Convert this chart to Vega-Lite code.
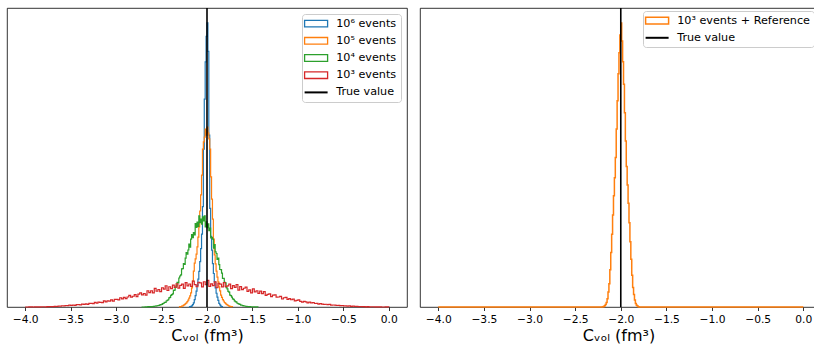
{
  "$schema": "https://vega.github.io/schema/vega-lite/v6.json",
  "padding": {"left": 6, "top": 6, "right": 0, "bottom": 0},
  "spacing": 11,
  "config": {
    "font": "DejaVu Sans",
    "view": {"stroke": "#000", "strokeWidth": 0.8},
    "axisX": {"grid": false, "domain": false, "tickSize": 3.5, "tickColor": "#000", "tickWidth": 0.8, "labelFontSize": 10.7, "labelColor": "#000", "labelPadding": 3.5, "titleFontSize": 16, "titleFontWeight": "normal", "titleColor": "#000", "titlePadding": 4},
    "legend": {"title": null, "padding": 4, "fillColor": "white", "strokeColor": "#cccccc", "cornerRadius": 3, "labelFontSize": 11.2, "labelColor": "#000", "labelOffset": 19, "symbolSize": 144, "symbolStrokeWidth": 1.4, "rowPadding": 4.2, "symbolType": "M-1.167,-0.55H2.667V0.55H-1.167Z"}
  },
  "datasets": {
    "blue": [{"x":-2.2,"y":0},{"x":-2.19,"y":0.01},{"x":-2.18,"y":0.02},{"x":-2.17,"y":0.04},{"x":-2.16,"y":0.08},{"x":-2.15,"y":0.14},{"x":-2.14,"y":0.25},{"x":-2.13,"y":0.38},{"x":-2.12,"y":0.53},{"x":-2.11,"y":0.72},{"x":-2.1,"y":0.93},{"x":-2.09,"y":1.19},{"x":-2.08,"y":1.52},{"x":-2.07,"y":1.95},{"x":-2.06,"y":2.44},{"x":-2.05,"y":3.36},{"x":-2.04,"y":5.28},{"x":-2.03,"y":6.95},{"x":-2.02,"y":8.2},{"x":-2.01,"y":9.05},{"x":-2.0,"y":9.5},{"x":-1.99,"y":8.55},{"x":-1.98,"y":5.75},{"x":-1.97,"y":3.3},{"x":-1.96,"y":2.36},{"x":-1.95,"y":1.9},{"x":-1.94,"y":1.45},{"x":-1.93,"y":1.12},{"x":-1.92,"y":0.85},{"x":-1.91,"y":0.64},{"x":-1.9,"y":0.46},{"x":-1.89,"y":0.33},{"x":-1.88,"y":0.22},{"x":-1.87,"y":0.12},{"x":-1.86,"y":0.07},{"x":-1.85,"y":0.03},{"x":-1.84,"y":0.01},{"x":-1.83,"y":0}],
    "orange": [{"x":-2.31,"y":0},{"x":-2.3,"y":0.01},{"x":-2.29,"y":0.01},{"x":-2.28,"y":0.03},{"x":-2.27,"y":0.04},{"x":-2.26,"y":0.06},{"x":-2.25,"y":0.08},{"x":-2.24,"y":0.11},{"x":-2.23,"y":0.14},{"x":-2.22,"y":0.18},{"x":-2.21,"y":0.23},{"x":-2.2,"y":0.3},{"x":-2.19,"y":0.37},{"x":-2.18,"y":0.47},{"x":-2.17,"y":0.64},{"x":-2.16,"y":0.87},{"x":-2.15,"y":1.2},{"x":-2.14,"y":1.47},{"x":-2.13,"y":1.61},{"x":-2.12,"y":1.77},{"x":-2.11,"y":2.01},{"x":-2.1,"y":2.34},{"x":-2.09,"y":2.68},{"x":-2.08,"y":3.21},{"x":-2.07,"y":3.75},{"x":-2.06,"y":4.41},{"x":-2.05,"y":5.28},{"x":-2.04,"y":5.52},{"x":-2.03,"y":5.68},{"x":-2.02,"y":5.95},{"x":-2.01,"y":5.75},{"x":-2.0,"y":6.02},{"x":-1.99,"y":5.82},{"x":-1.98,"y":5.62},{"x":-1.97,"y":5.28},{"x":-1.96,"y":4.35},{"x":-1.95,"y":3.61},{"x":-1.94,"y":2.94},{"x":-1.93,"y":2.27},{"x":-1.92,"y":1.74},{"x":-1.91,"y":1.44},{"x":-1.9,"y":1.2},{"x":-1.89,"y":1.0},{"x":-1.88,"y":0.84},{"x":-1.87,"y":0.67},{"x":-1.86,"y":0.54},{"x":-1.85,"y":0.4},{"x":-1.84,"y":0.32},{"x":-1.83,"y":0.25},{"x":-1.82,"y":0.2},{"x":-1.81,"y":0.15},{"x":-1.8,"y":0.12},{"x":-1.79,"y":0.09},{"x":-1.78,"y":0.07},{"x":-1.77,"y":0.05},{"x":-1.76,"y":0.03},{"x":-1.75,"y":0.02},{"x":-1.74,"y":0.01},{"x":-1.73,"y":0.01},{"x":-1.72,"y":0}],
    "green": [{"x":-2.72,"y":0},{"x":-2.68,"y":0.006},{"x":-2.65,"y":0.01},{"x":-2.62,"y":0.012},{"x":-2.61,"y":0.014},{"x":-2.6,"y":0.016},{"x":-2.59,"y":0.019},{"x":-2.58,"y":0.025},{"x":-2.57,"y":0.029},{"x":-2.56,"y":0.037},{"x":-2.55,"y":0.041},{"x":-2.54,"y":0.05},{"x":-2.53,"y":0.055},{"x":-2.52,"y":0.072},{"x":-2.51,"y":0.082},{"x":-2.5,"y":0.091},{"x":-2.49,"y":0.116},{"x":-2.48,"y":0.125},{"x":-2.47,"y":0.153},{"x":-2.46,"y":0.158},{"x":-2.45,"y":0.201},{"x":-2.44,"y":0.224},{"x":-2.43,"y":0.243},{"x":-2.42,"y":0.308},{"x":-2.41,"y":0.32},{"x":-2.4,"y":0.387},{"x":-2.39,"y":0.415},{"x":-2.38,"y":0.442},{"x":-2.37,"y":0.559},{"x":-2.36,"y":0.562},{"x":-2.35,"y":0.659},{"x":-2.34,"y":0.704},{"x":-2.33,"y":0.825},{"x":-2.32,"y":0.809},{"x":-2.31,"y":0.97},{"x":-2.3,"y":1.037},{"x":-2.29,"y":1.073},{"x":-2.28,"y":1.278},{"x":-2.27,"y":1.282},{"x":-2.26,"y":1.449},{"x":-2.25,"y":1.427},{"x":-2.24,"y":1.633},{"x":-2.23,"y":1.818},{"x":-2.22,"y":1.769},{"x":-2.21,"y":1.907},{"x":-2.2,"y":2.105},{"x":-2.19,"y":2.001},{"x":-2.18,"y":2.267},{"x":-2.17,"y":2.423},{"x":-2.16,"y":2.316},{"x":-2.15,"y":2.49},{"x":-2.14,"y":2.408},{"x":-2.13,"y":2.788},{"x":-2.12,"y":2.662},{"x":-2.11,"y":2.837},{"x":-2.1,"y":2.692},{"x":-2.09,"y":3.05},{"x":-2.08,"y":2.82},{"x":-2.07,"y":2.941},{"x":-2.06,"y":2.767},{"x":-2.05,"y":3.012},{"x":-2.04,"y":2.88},{"x":-2.03,"y":3.051},{"x":-2.02,"y":2.681},{"x":-2.01,"y":2.849},{"x":-2.0,"y":2.654},{"x":-1.99,"y":2.782},{"x":-1.98,"y":2.554},{"x":-1.97,"y":2.64},{"x":-1.96,"y":2.309},{"x":-1.95,"y":2.326},{"x":-1.94,"y":2.272},{"x":-1.93,"y":1.968},{"x":-1.92,"y":2.088},{"x":-1.91,"y":1.841},{"x":-1.9,"y":1.79},{"x":-1.89,"y":1.592},{"x":-1.88,"y":1.637},{"x":-1.87,"y":1.42},{"x":-1.86,"y":1.255},{"x":-1.85,"y":1.252},{"x":-1.84,"y":1.133},{"x":-1.83,"y":0.953},{"x":-1.82,"y":0.959},{"x":-1.81,"y":0.823},{"x":-1.8,"y":0.805},{"x":-1.79,"y":0.647},{"x":-1.78,"y":0.606},{"x":-1.77,"y":0.521},{"x":-1.76,"y":0.498},{"x":-1.75,"y":0.394},{"x":-1.74,"y":0.378},{"x":-1.73,"y":0.328},{"x":-1.72,"y":0.271},{"x":-1.71,"y":0.258},{"x":-1.7,"y":0.207},{"x":-1.69,"y":0.182},{"x":-1.68,"y":0.163},{"x":-1.67,"y":0.126},{"x":-1.66,"y":0.115},{"x":-1.65,"y":0.095},{"x":-1.64,"y":0.086},{"x":-1.63,"y":0.064},{"x":-1.62,"y":0.059},{"x":-1.61,"y":0.046},{"x":-1.6,"y":0.039},{"x":-1.59,"y":0.034},{"x":-1.58,"y":0.025},{"x":-1.57,"y":0.021},{"x":-1.56,"y":0.016},{"x":-1.55,"y":0.015},{"x":-1.54,"y":0.011},{"x":-1.52,"y":0.008},{"x":-1.5,"y":0.005},{"x":-1.47,"y":0.003},{"x":-1.44,"y":0}],
    "red": [{"x":-4.0,"y":0},{"x":-3.96,"y":0.004},{"x":-3.92,"y":0},{"x":-3.9,"y":0.006},{"x":-3.86,"y":0.003},{"x":-3.82,"y":0.009},{"x":-3.78,"y":0.007},{"x":-3.76,"y":0.012},{"x":-3.74,"y":0.01},{"x":-3.72,"y":0.016},{"x":-3.7,"y":0.013},{"x":-3.68,"y":0.02},{"x":-3.66,"y":0.017},{"x":-3.64,"y":0.026},{"x":-3.62,"y":0.03},{"x":-3.6,"y":0.042},{"x":-3.58,"y":0.037},{"x":-3.56,"y":0.05},{"x":-3.54,"y":0.047},{"x":-3.52,"y":0.061},{"x":-3.5,"y":0.052},{"x":-3.48,"y":0.062},{"x":-3.46,"y":0.056},{"x":-3.44,"y":0.078},{"x":-3.42,"y":0.077},{"x":-3.4,"y":0.073},{"x":-3.38,"y":0.097},{"x":-3.36,"y":0.088},{"x":-3.34,"y":0.106},{"x":-3.32,"y":0.087},{"x":-3.3,"y":0.118},{"x":-3.28,"y":0.118},{"x":-3.26,"y":0.111},{"x":-3.24,"y":0.152},{"x":-3.22,"y":0.132},{"x":-3.2,"y":0.163},{"x":-3.18,"y":0.155},{"x":-3.16,"y":0.146},{"x":-3.14,"y":0.204},{"x":-3.12,"y":0.17},{"x":-3.1,"y":0.204},{"x":-3.08,"y":0.199},{"x":-3.06,"y":0.24},{"x":-3.04,"y":0.194},{"x":-3.02,"y":0.253},{"x":-3.0,"y":0.254},{"x":-2.98,"y":0.237},{"x":-2.96,"y":0.309},{"x":-2.94,"y":0.272},{"x":-2.92,"y":0.323},{"x":-2.9,"y":0.277},{"x":-2.88,"y":0.335},{"x":-2.86,"y":0.388},{"x":-2.84,"y":0.33},{"x":-2.82,"y":0.36},{"x":-2.8,"y":0.416},{"x":-2.78,"y":0.344},{"x":-2.76,"y":0.429},{"x":-2.74,"y":0.47},{"x":-2.72,"y":0.403},{"x":-2.7,"y":0.452},{"x":-2.68,"y":0.4},{"x":-2.66,"y":0.544},{"x":-2.64,"y":0.48},{"x":-2.62,"y":0.544},{"x":-2.6,"y":0.475},{"x":-2.58,"y":0.625},{"x":-2.56,"y":0.526},{"x":-2.54,"y":0.585},{"x":-2.52,"y":0.516},{"x":-2.5,"y":0.643},{"x":-2.48,"y":0.598},{"x":-2.46,"y":0.71},{"x":-2.44,"y":0.552},{"x":-2.42,"y":0.677},{"x":-2.4,"y":0.615},{"x":-2.38,"y":0.733},{"x":-2.36,"y":0.658},{"x":-2.34,"y":0.778},{"x":-2.32,"y":0.633},{"x":-2.3,"y":0.72},{"x":-2.28,"y":0.764},{"x":-2.26,"y":0.621},{"x":-2.24,"y":0.815},{"x":-2.22,"y":0.704},{"x":-2.2,"y":0.77},{"x":-2.18,"y":0.692},{"x":-2.16,"y":0.866},{"x":-2.14,"y":0.749},{"x":-2.12,"y":0.678},{"x":-2.1,"y":0.828},{"x":-2.08,"y":0.805},{"x":-2.06,"y":0.671},{"x":-2.04,"y":0.844},{"x":-2.02,"y":0.745},{"x":-2.0,"y":0.891},{"x":-1.98,"y":0.693},{"x":-1.96,"y":0.776},{"x":-1.94,"y":0.712},{"x":-1.92,"y":0.842},{"x":-1.9,"y":0.644},{"x":-1.88,"y":0.794},{"x":-1.86,"y":0.764},{"x":-1.84,"y":0.674},{"x":-1.82,"y":0.819},{"x":-1.8,"y":0.684},{"x":-1.78,"y":0.709},{"x":-1.76,"y":0.767},{"x":-1.74,"y":0.613},{"x":-1.72,"y":0.713},{"x":-1.7,"y":0.658},{"x":-1.68,"y":0.752},{"x":-1.66,"y":0.563},{"x":-1.64,"y":0.684},{"x":-1.62,"y":0.581},{"x":-1.6,"y":0.627},{"x":-1.58,"y":0.662},{"x":-1.56,"y":0.525},{"x":-1.54,"y":0.576},{"x":-1.52,"y":0.473},{"x":-1.5,"y":0.608},{"x":-1.48,"y":0.508},{"x":-1.46,"y":0.544},{"x":-1.44,"y":0.456},{"x":-1.42,"y":0.528},{"x":-1.4,"y":0.445},{"x":-1.38,"y":0.517},{"x":-1.36,"y":0.389},{"x":-1.34,"y":0.423},{"x":-1.32,"y":0.442},{"x":-1.3,"y":0.344},{"x":-1.28,"y":0.398},{"x":-1.26,"y":0.407},{"x":-1.24,"y":0.33},{"x":-1.22,"y":0.334},{"x":-1.2,"y":0.356},{"x":-1.18,"y":0.267},{"x":-1.16,"y":0.309},{"x":-1.14,"y":0.323},{"x":-1.12,"y":0.252},{"x":-1.1,"y":0.279},{"x":-1.08,"y":0.242},{"x":-1.06,"y":0.265},{"x":-1.04,"y":0.205},{"x":-1.02,"y":0.219},{"x":-1.0,"y":0.236},{"x":-0.98,"y":0.186},{"x":-0.96,"y":0.161},{"x":-0.94,"y":0.19},{"x":-0.92,"y":0.172},{"x":-0.9,"y":0.14},{"x":-0.88,"y":0.163},{"x":-0.86,"y":0.139},{"x":-0.84,"y":0.15},{"x":-0.82,"y":0.117},{"x":-0.8,"y":0.124},{"x":-0.78,"y":0.095},{"x":-0.76,"y":0.116},{"x":-0.74,"y":0.098},{"x":-0.72,"y":0.085},{"x":-0.7,"y":0.092},{"x":-0.68,"y":0.078},{"x":-0.66,"y":0.086},{"x":-0.64,"y":0.063},{"x":-0.62,"y":0.067},{"x":-0.6,"y":0.066},{"x":-0.58,"y":0.05},{"x":-0.56,"y":0.056},{"x":-0.54,"y":0.047},{"x":-0.52,"y":0.05},{"x":-0.5,"y":0.04},{"x":-0.48,"y":0.035},{"x":-0.46,"y":0.028},{"x":-0.44,"y":0.036},{"x":-0.42,"y":0.024},{"x":-0.4,"y":0.027},{"x":-0.38,"y":0.018},{"x":-0.36,"y":0.022},{"x":-0.34,"y":0.014},{"x":-0.32,"y":0.017},{"x":-0.3,"y":0.01},{"x":-0.28,"y":0.013},{"x":-0.26,"y":0.007},{"x":-0.24,"y":0.01},{"x":-0.22,"y":0.004},{"x":-0.2,"y":0.008},{"x":-0.16,"y":0.003},{"x":-0.12,"y":0.006},{"x":-0.08,"y":0},{"x":-0.04,"y":0.003},{"x":0.0,"y":0}],
    "ref": [{"x":-4.0,"y":0},{"x":-2.2,"y":0.01},{"x":-2.19,"y":0.02},{"x":-2.18,"y":0.04},{"x":-2.17,"y":0.08},{"x":-2.16,"y":0.15},{"x":-2.15,"y":0.28},{"x":-2.14,"y":0.5},{"x":-2.13,"y":0.78},{"x":-2.12,"y":1.25},{"x":-2.11,"y":1.82},{"x":-2.1,"y":2.43},{"x":-2.09,"y":3.08},{"x":-2.08,"y":3.72},{"x":-2.07,"y":4.32},{"x":-2.06,"y":5.0},{"x":-2.05,"y":5.95},{"x":-2.04,"y":6.9},{"x":-2.03,"y":7.8},{"x":-2.02,"y":8.5},{"x":-2.01,"y":9.1},{"x":-2.0,"y":9.5},{"x":-1.99,"y":8.9},{"x":-1.98,"y":8.2},{"x":-1.97,"y":7.45},{"x":-1.96,"y":6.5},{"x":-1.95,"y":5.55},{"x":-1.94,"y":4.7},{"x":-1.93,"y":4.08},{"x":-1.92,"y":3.47},{"x":-1.91,"y":2.82},{"x":-1.9,"y":2.18},{"x":-1.89,"y":1.6},{"x":-1.88,"y":1.06},{"x":-1.87,"y":0.65},{"x":-1.86,"y":0.42},{"x":-1.85,"y":0.23},{"x":-1.84,"y":0.12},{"x":-1.83,"y":0.06},{"x":-1.82,"y":0.03},{"x":-1.81,"y":0.01},{"x":-1.8,"y":0},{"x":0.0,"y":0}],
    "truth": [{"x":-2.0}]
  },
  "hconcat": [
    {
      "width": 400,
      "height": 299,
      "layer": [
        {"data": {"name": "blue"}, "mark": {"type": "line", "interpolate": "step-after", "strokeWidth": 1.2},
         "encoding": {"x": {"field": "x", "type": "quantitative", "scale": {"domain": [-4.2, 0.2], "nice": false, "zero": false}, "axis": {"values": [-4,-3.5,-3,-2.5,-2,-1.5,-1,-0.5,0], "format": ".1f"}, "title": "Cᵥₒₗ (fm³)"},
          "y": {"field": "y", "type": "quantitative", "scale": {"domain": [0, 10], "nice": false, "zero": true}, "axis": null},
          "color": {"datum": "10⁶ events", "type": "nominal", "scale": {"domain": ["10⁶ events","10⁵ events","10⁴ events","10³ events","True value"], "range": ["#1f77b4","#ff7f0e","#2ca02c","#d62728","#000000"]},
            "legend": {"orient": "top-right", "offset": 6, "symbolType": "M-1.167,-0.55H2.667V0.55H-1.167Z",
              "encode": {"symbols": {"update": {"shape": {"signal": "datum.value === 'True value' ? 'M-1.167,0H2.667' : 'M-1.167,-0.55H2.667V0.55H-1.167Z'"}, "fill": {"value": "transparent"}, "strokeWidth": {"signal": "datum.value === 'True value' ? 2 : 1.3"}}}}}}}},
        {"data": {"name": "orange"}, "mark": {"type": "line", "interpolate": "step-after", "strokeWidth": 1.2},
         "encoding": {"x": {"field": "x", "type": "quantitative"}, "y": {"field": "y", "type": "quantitative"}, "color": {"datum": "10⁵ events", "type": "nominal"}}},
        {"data": {"name": "green"}, "mark": {"type": "line", "interpolate": "step-after", "strokeWidth": 1.2},
         "encoding": {"x": {"field": "x", "type": "quantitative"}, "y": {"field": "y", "type": "quantitative"}, "color": {"datum": "10⁴ events", "type": "nominal"}}},
        {"data": {"name": "red"}, "mark": {"type": "line", "interpolate": "step-after", "strokeWidth": 1.2},
         "encoding": {"x": {"field": "x", "type": "quantitative"}, "y": {"field": "y", "type": "quantitative"}, "color": {"datum": "10³ events", "type": "nominal"}}},
        {"data": {"name": "truth"}, "mark": {"type": "rule", "strokeWidth": 1.6},
         "encoding": {"x": {"field": "x", "type": "quantitative"}, "color": {"datum": "True value", "type": "nominal"}}}
      ]
    },
    {
      "width": 397,
      "height": 299,
      "layer": [
        {"data": {"name": "ref"}, "mark": {"type": "line", "interpolate": "step-after", "strokeWidth": 1.5},
         "encoding": {"x": {"field": "x", "type": "quantitative", "scale": {"domain": [-4.2, 0.15], "nice": false, "zero": false}, "axis": {"values": [-4,-3.5,-3,-2.5,-2,-1.5,-1,-0.5,0], "format": ".1f"}, "title": "Cᵥₒₗ (fm³)"},
          "y": {"field": "y", "type": "quantitative", "scale": {"domain": [0, 10], "nice": false, "zero": true}, "axis": null},
          "color": {"datum": "10³ events + Reference", "type": "nominal", "scale": {"domain": ["10³ events + Reference","True value"], "range": ["#ff7f0e","#000000"]},
            "legend": {"orient": "top-right", "offset": 3, "symbolType": "M-1.167,-0.55H2.667V0.55H-1.167Z",
              "encode": {"symbols": {"update": {"shape": {"signal": "datum.value === 'True value' ? 'M-1.167,0H2.667' : 'M-1.167,-0.55H2.667V0.55H-1.167Z'"}, "fill": {"value": "transparent"}, "strokeWidth": {"signal": "datum.value === 'True value' ? 2 : 1.5"}}}}}}}},
        {"data": {"name": "truth"}, "mark": {"type": "rule", "strokeWidth": 1.6},
         "encoding": {"x": {"field": "x", "type": "quantitative"}, "color": {"datum": "True value", "type": "nominal"}}}
      ]
    }
  ],
  "resolve": {"scale": {"x": "independent", "y": "independent", "color": "independent"}}
}
